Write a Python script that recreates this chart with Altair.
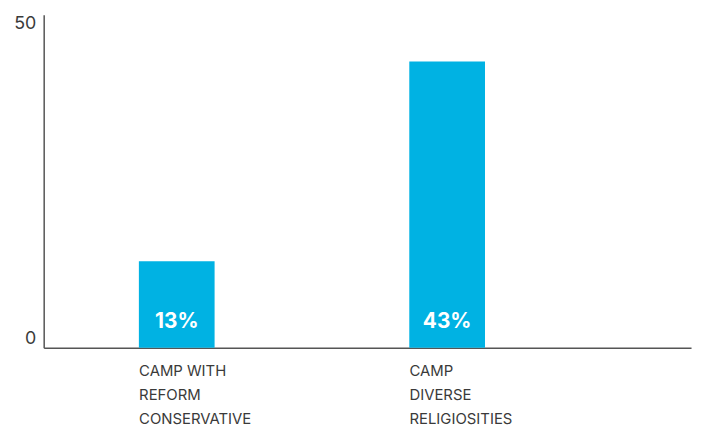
import altair as alt
import pandas as pd

categories = ["CAMP WITH REFORM CONSERVATIVE", "CAMP DIVERSE RELIGIOSITIES"]
label_lines = [["CAMP WITH", "REFORM", "CONSERVATIVE"], ["CAMP", "DIVERSE", "RELIGIOSITIES"]]
values = [13, 43]
value_labels = ["13%", "43%"]
y_ticks = [0, 50]

df = pd.DataFrame({"category": categories, "value": values, "label": value_labels})

def arr(lines):
    return "[" + ",".join("'" + l + "'" for l in lines) + "]"

label_expr = (
    f"datum.value == '{categories[0]}' ? {arr(label_lines[0])} : {arr(label_lines[1])}"
)

FONT = "Inter"
BLUE = "#00B2E3"

x = alt.X(
    "category:N",
    sort=categories,
    scale=alt.Scale(paddingInner=0.72, paddingOuter=0.557, align=0.316),
    axis=alt.Axis(
        title=None,
        labelAngle=0,
        labelAlign="left",
        labelBaseline="top",
        labelOffset=-38,
        ticks=False,
        labelPadding=16,
        labelFontSize=15,
        labelLineHeight=24,
        labelColor="#3a3a3a",
        labelFont=FONT,
        labelExpr=label_expr,
        domainColor="#555555",
        domainWidth=1.5,
    ),
)

y = alt.Y(
    "value:Q",
    scale=alt.Scale(domain=[0, 50], nice=False),
    axis=alt.Axis(
        title=None,
        values=y_ticks,
        grid=False,
        ticks=False,
        labelFlush=True,
        labelPadding=8,
        labelFontSize=18,
        labelColor="#3a3a3a",
        labelFont=FONT,
        domainColor="#555555",
        domainWidth=1.5,
    ),
)

bars = alt.Chart(df).mark_bar(color=BLUE).encode(x=x, y=y)

text = alt.Chart(df).mark_text(
    color="white", fontWeight="bold", fontSize=21, font=FONT, baseline="middle", dy=-26
).encode(x=alt.X("category:N", sort=categories), y=alt.datum(0), text="label:N")

chart = (
    alt.layer(bars, text)
    .properties(width=653, height=336, padding={"left": 5, "top": 5, "right": 5, "bottom": 0})
    .configure_view(stroke=None)
)

chart.save("out.html", embed_options={"renderer": "svg", "actions": False})
